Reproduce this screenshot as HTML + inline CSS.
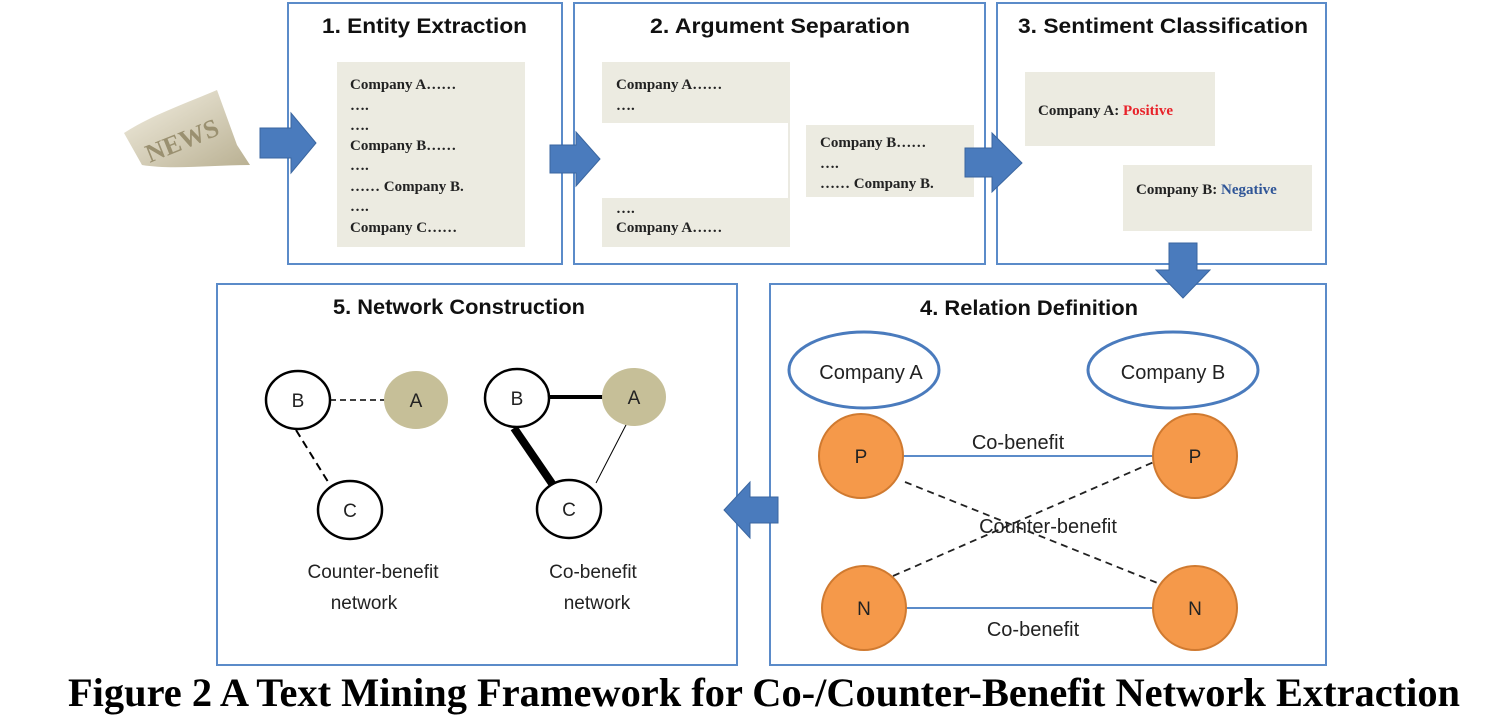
<!DOCTYPE html>
<html><head><meta charset="utf-8"><style>html,body{margin:0;padding:0;background:#fff}svg{display:block}</style></head>
<body>
<svg width="1502" height="725" viewBox="0 0 1502 725" xmlns="http://www.w3.org/2000/svg">
<defs>
<linearGradient id="np" x1="0" y1="0" x2="1" y2="1"><stop offset="0" stop-color="#f3efe2"/><stop offset="1" stop-color="#b9b092"/></linearGradient>
</defs>
<g fill="none" stroke="#5b8bc9" stroke-width="2">
<rect x="288" y="3" width="274" height="261"/>
<rect x="574" y="3" width="411" height="261"/>
<rect x="997" y="3" width="329" height="261"/>
<rect x="217" y="284" width="520" height="381"/>
<rect x="770" y="284" width="556" height="381"/>
</g>
<g font-family="Liberation Sans, sans-serif" font-weight="bold" font-size="21" fill="#111">
<text x="322" y="33" textLength="205" lengthAdjust="spacingAndGlyphs">1. Entity Extraction</text>
<text x="650" y="33" textLength="260" lengthAdjust="spacingAndGlyphs">2. Argument Separation</text>
<text x="1018" y="33" textLength="290" lengthAdjust="spacingAndGlyphs">3. Sentiment Classification</text>
<text x="333" y="314" textLength="252" lengthAdjust="spacingAndGlyphs">5. Network Construction</text>
<text x="920" y="315" textLength="218" lengthAdjust="spacingAndGlyphs">4. Relation Definition</text>
</g>
<g transform="translate(122,85)">
<path d="M2,48 C30,30 60,20 95,5 L115,60 L128,80 C90,80 50,85 20,80 Z" fill="url(#np)"/>
<text x="22" y="72" font-family="Liberation Serif, serif" font-size="26" font-weight="bold" fill="#9a9070" transform="rotate(-22 40 60)">NEWS</text>
</g>
<g fill="#ecebe1">
<rect x="337" y="62" width="188" height="185"/>
<rect x="602" y="62" width="188" height="61"/>
<rect x="602" y="198" width="188" height="49"/>
<rect x="806" y="125" width="168" height="72"/>
<rect x="1025" y="72" width="190" height="74"/>
<rect x="1123" y="165" width="189" height="66"/>
</g>
<line x1="789" y1="123" x2="789" y2="198" stroke="#e4e3d8" stroke-width="1.5"/>
<g font-family="Liberation Serif, serif" font-weight="bold" font-size="15" fill="#222">
<text x="350" y="89">Company A……</text>
<text x="350" y="110">….</text>
<text x="350" y="130">….</text>
<text x="350" y="150">Company B……</text>
<text x="350" y="170">….</text>
<text x="350" y="191">……  Company B.</text>
<text x="350" y="211">….</text>
<text x="350" y="232">Company C……</text>
<text x="616" y="89">Company A……</text>
<text x="616" y="110">….</text>
<text x="616" y="213">….</text>
<text x="616" y="232">Company A……</text>
<text x="820" y="147">Company B……</text>
<text x="820" y="168">….</text>
<text x="820" y="188">……  Company B.</text>
<text x="1038" y="115">Company A:  <tspan fill="#e8222a">Positive</tspan></text>
<text x="1136" y="194">Company B: <tspan fill="#2f5597">Negative</tspan></text>
</g>
<g fill="#4a7bbd" stroke="#3a66a0" stroke-width="1">
<path d="M260,128 H291 V113 L316,143 L291,173 V158 H260 Z"/>
<path d="M550,145 H576 V132 L600,159 L576,186 V173 H550 Z"/>
<path d="M965,148 H992 V133 L1022,163 L992,192 V177 H965 Z"/>
<path d="M1169,243 H1197 V270 H1210 L1183,298 L1156,270 H1169 Z"/>
<path d="M778,497 H750 V482 L724,510 L750,538 V523 H778 Z"/>
</g>
<g stroke="#000" fill="none">
<line x1="330" y1="400" x2="390" y2="400" stroke-width="1.5" stroke-dasharray="6,4"/>
<line x1="296" y1="430" x2="330" y2="485" stroke-width="2" stroke-dasharray="8,5"/>
<line x1="548" y1="397" x2="605" y2="397" stroke-width="4"/>
<line x1="514" y1="428" x2="553" y2="485" stroke-width="8"/>
<line x1="627" y1="423" x2="596" y2="483" stroke-width="1"/>
</g>
<g stroke="#000" stroke-width="2.5">
<ellipse cx="298" cy="400" rx="32" ry="29" fill="#fff"/>
<ellipse cx="416" cy="400" rx="32" ry="29" fill="#c6bf98" stroke="none"/>
<ellipse cx="350" cy="510" rx="32" ry="29" fill="#fff"/>
<ellipse cx="517" cy="398" rx="32" ry="29" fill="#fff"/>
<ellipse cx="634" cy="397" rx="32" ry="29" fill="#c6bf98" stroke="none"/>
<ellipse cx="569" cy="509" rx="32" ry="29" fill="#fff"/>
</g>
<g font-family="Liberation Sans, sans-serif" font-size="19" fill="#222" text-anchor="middle">
<text x="298" y="407">B</text><text x="416" y="407">A</text><text x="350" y="517">C</text>
<text x="517" y="405">B</text><text x="634" y="404">A</text><text x="569" y="516">C</text>
<text x="373" y="578">Counter-benefit</text>
<text x="364" y="609">network</text>
<text x="593" y="578">Co-benefit</text>
<text x="597" y="609">network</text>
</g>
<g fill="#fff" stroke="#4a7bbd" stroke-width="3">
<ellipse cx="864" cy="370" rx="75" ry="38"/>
<ellipse cx="1173" cy="370" rx="85" ry="38"/>
</g>
<g stroke="#5b8bc9" stroke-width="2">
<line x1="900" y1="456" x2="1160" y2="456"/>
<line x1="903" y1="608" x2="1160" y2="608"/>
</g>
<g stroke="#222" stroke-width="1.8" stroke-dasharray="7,5">
<line x1="905" y1="482" x2="1175" y2="590"/>
<line x1="893" y1="576" x2="1163" y2="458"/>
</g>
<g fill="#f5994a" stroke="#d07a30" stroke-width="2">
<circle cx="861" cy="456" r="42"/>
<circle cx="1195" cy="456" r="42"/>
<circle cx="864" cy="608" r="42"/>
<circle cx="1195" cy="608" r="42"/>
</g>
<g font-family="Liberation Sans, sans-serif" font-size="20" fill="#222" text-anchor="middle">
<text x="871" y="379">Company A</text>
<text x="1173" y="379">Company B</text>
<text x="1018" y="449">Co-benefit</text>
<text x="1048" y="533">Counter-benefit</text>
<text x="1033" y="636">Co-benefit</text>
<text x="861" y="463" font-size="19">P</text>
<text x="1195" y="463" font-size="19">P</text>
<text x="864" y="615" font-size="19">N</text>
<text x="1195" y="615" font-size="19">N</text>
</g>
<text x="68" y="706" font-family="Liberation Serif, serif" font-weight="bold" font-size="40" fill="#000" textLength="1392" lengthAdjust="spacingAndGlyphs">Figure 2 A Text Mining Framework for Co-/Counter-Benefit Network Extraction</text>
</svg>
</body></html>
